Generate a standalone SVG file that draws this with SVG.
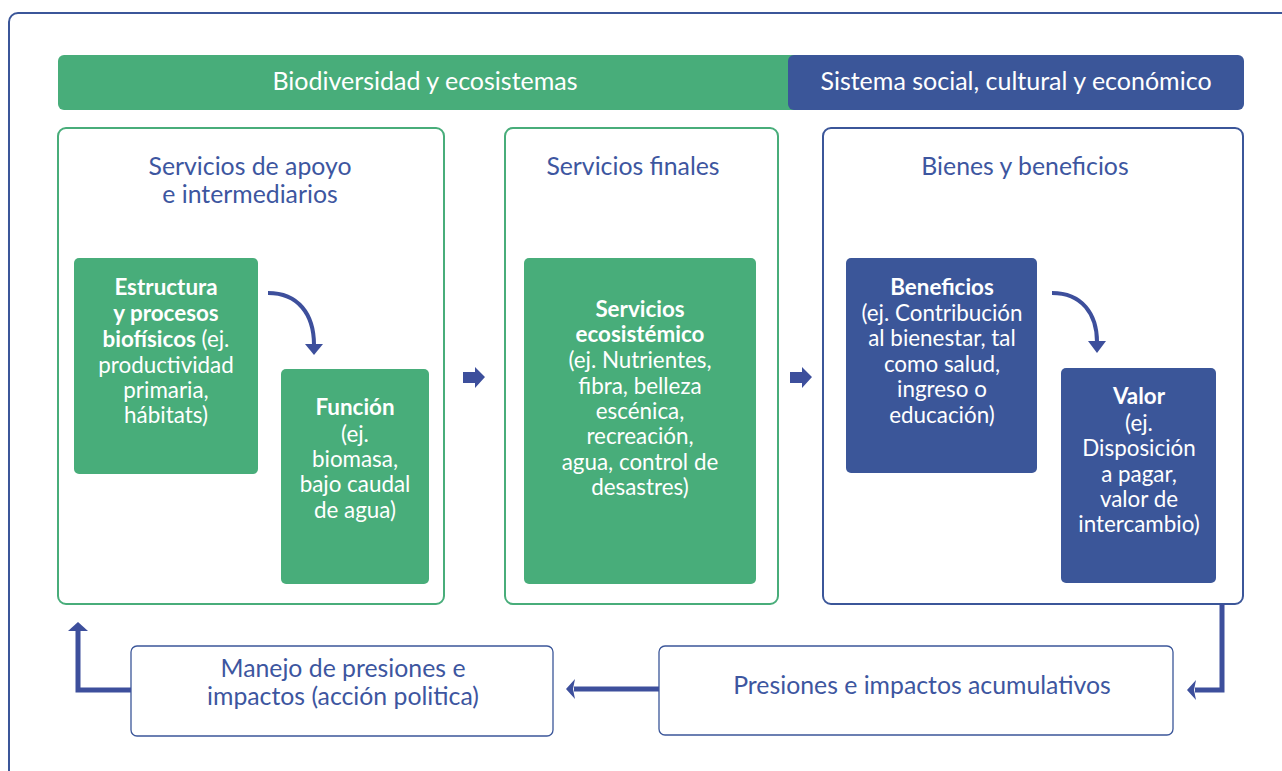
<svg xmlns="http://www.w3.org/2000/svg" width="1282" height="771" viewBox="0 0 1282 771">
<style>
.gfill{fill:#48ad7a}
.bfill{fill:#3b5699}
.gbox{fill:#fff;stroke:#48ad7a;stroke-width:2}
.bbox{fill:#fff;stroke:#3b5699;stroke-width:2}
.wbox{fill:#fff;stroke:#3b5699;stroke-width:1.3}
text{font-family:Lato,"Liberation Sans",sans-serif;text-anchor:middle}
.hdr{fill:#fff;font-size:25px}
.ttl{fill:#3d56a0;font-size:24.8px}
.in{fill:#fff;font-size:22.4px}
.b{font-weight:bold}
.conn{fill:none;stroke:#3d4f9c;stroke-width:5}
.curve{fill:none;stroke:#3d4f9c;stroke-width:4}
.head{fill:#3d4f9c}
</style>
<rect x="9" y="13" width="1300" height="800" rx="9" fill="none" stroke="#3b5699" stroke-width="2"/>
<g id="header-bio">
<rect x="58" y="55" width="750" height="55" rx="6" class="gfill"/>
<text x="425" y="90" class="hdr">Biodiversidad y ecosistemas</text>
</g>
<g id="header-social">
<rect x="788" y="55" width="456" height="55" rx="6" class="bfill"/>
<text x="1016" y="90" class="hdr">Sistema social, cultural y económico</text>
</g>
<g id="panel-apoyo">
<rect x="58" y="128" width="386" height="476" rx="8" class="gbox"/>
<text x="250" y="175" class="ttl">Servicios de apoyo</text>
<text x="250" y="203" class="ttl">e intermediarios</text>
</g>
<g id="estructura">
<rect x="74" y="258" width="184" height="216" rx="5" class="gfill"/>
<text x="166" y="295" class="in"><tspan class="b">Estructura</tspan></text>
<text x="166" y="321" class="in"><tspan class="b">y procesos</tspan></text>
<text x="166" y="347" class="in"><tspan class="b">biofísicos</tspan> (ej.</text>
<text x="166" y="373" class="in">productividad</text>
<text x="166" y="398" class="in">primaria,</text>
<text x="166" y="423" class="in">hábitats)</text>
</g>
<g id="funcion">
<rect x="281" y="369" width="148" height="215" rx="5" class="gfill"/>
<text x="355" y="415" class="in b">Función</text>
<text x="355" y="442" class="in">(ej.</text>
<text x="355" y="467" class="in">biomasa,</text>
<text x="355" y="492" class="in">bajo caudal</text>
<text x="355" y="518" class="in">de agua)</text>
</g>
<g id="panel-finales">
<rect x="505" y="128" width="273" height="476" rx="8" class="gbox"/>
<text x="633" y="175" class="ttl">Servicios finales</text>
</g>
<g id="servicios">
<rect x="524" y="258" width="232" height="326" rx="5" class="gfill"/>
<text x="640" y="317" class="in b">Servicios</text>
<text x="640" y="342" class="in b">ecosistémico</text>
<text x="640" y="368" class="in">(ej. Nutrientes,</text>
<text x="640" y="394" class="in">fibra, belleza</text>
<text x="640" y="419" class="in">escénica,</text>
<text x="640" y="444" class="in">recreación,</text>
<text x="640" y="470" class="in">agua, control de</text>
<text x="640" y="495" class="in">desastres)</text>
</g>
<g id="panel-bienes">
<rect x="823" y="128" width="420" height="476" rx="8" class="bbox"/>
<text x="1025" y="175" class="ttl">Bienes y beneficios</text>
</g>
<g id="beneficios">
<rect x="846" y="258" width="191" height="215" rx="5" class="bfill"/>
<text x="942" y="295" class="in b">Beneficios</text>
<text x="942" y="321" class="in">(ej. Contribución</text>
<text x="942" y="346" class="in">al bienestar, tal</text>
<text x="942" y="372" class="in">como salud,</text>
<text x="942" y="397" class="in">ingreso o</text>
<text x="942" y="423" class="in">educación)</text>
</g>
<g id="valor">
<rect x="1061" y="368" width="155" height="215" rx="5" class="bfill"/>
<text x="1139" y="404" class="in b">Valor</text>
<text x="1139" y="431" class="in">(ej.</text>
<text x="1139" y="456" class="in">Disposición</text>
<text x="1139" y="482" class="in">a pagar,</text>
<text x="1139" y="507" class="in">valor de</text>
<text x="1139" y="532" class="in">intercambio)</text>
</g>
<g id="presiones">
<rect x="659" y="646" width="514" height="89" rx="6" class="wbox"/>
<text x="922" y="694" class="ttl">Presiones e impactos acumulativos</text>
</g>
<g id="manejo">
<rect x="131" y="646" width="422" height="90" rx="6" class="wbox"/>
<text x="343" y="677" class="ttl">Manejo de presiones e</text>
<text x="343" y="705" class="ttl">impactos (acción politica)</text>
</g>
<g id="connectors">
<path class="curve" d="M268,293 C298,293 314,314 314,345"/>
<polygon class="head" points="305,344 323,344 314,355"/>
<path class="curve" d="M1052,293 C1082,293 1097,314 1097,342"/>
<polygon class="head" points="1088,341 1106,341 1097,353"/>
<polygon class="head" points="463,372 475,372 475,367 485,377 475,388 475,383 463,383"/>
<polygon class="head" points="790,372 802,372 802,367 812,377 802,388 802,383 790,383"/>
<path class="conn" d="M1222,604 V690 H1195"/>
<polygon class="head" points="1187,690 1196,680 1194,690 1196,700"/>
<path class="conn" d="M659,689 H574"/>
<polygon class="head" points="566,689 575,679 573,689 575,699"/>
<path class="conn" d="M131,690 H78 V631"/>
<polygon class="head" points="78,622 88,631 68,631"/>
</g>
</svg>
